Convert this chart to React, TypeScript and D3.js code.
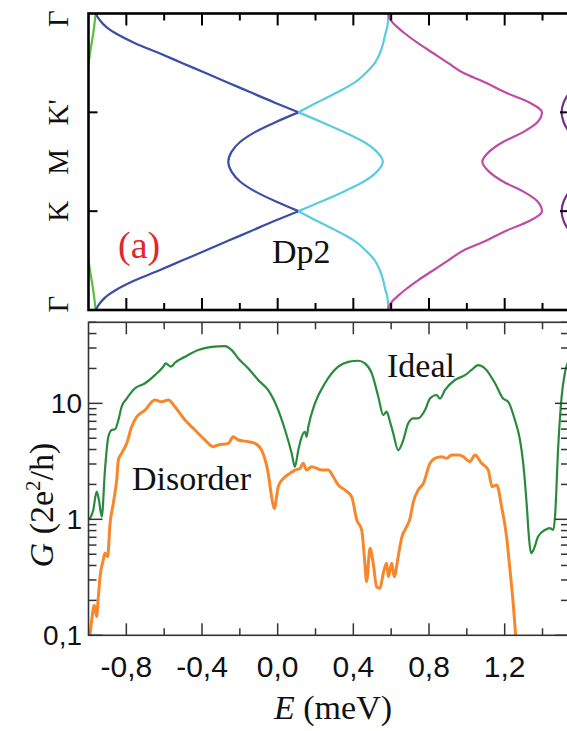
import React, { useEffect } from 'react';
import * as d3 from 'd3';

// ---- panel (a): bands along Γ - K' - M - K - Γ  (Γ=0, K'=1, M=1.5, K=2, Γ=3), E in meV
const kPath = [0, 0.05, 0.1, 0.15, 0.2, 0.3, 0.4, 0.5, 0.6, 0.7, 0.8, 0.9, 1.0,
  1.1, 1.2, 1.3, 1.4, 1.5, 1.6, 1.7, 1.8, 1.9, 2.0,
  2.1, 2.2, 2.3, 2.4, 2.5, 2.6, 2.7, 2.8, 2.85, 2.9, 2.95, 3.0];
const blueE = [-0.962, -0.947, -0.926, -0.897, -0.857, -0.754, -0.628, -0.506, -0.384, -0.262, -0.140, -0.018, 0.110,
  -0.012, -0.120, -0.199, -0.244, -0.261, -0.244, -0.199, -0.120, -0.012, 0.110,
  -0.018, -0.140, -0.262, -0.384, -0.506, -0.628, -0.754, -0.857, -0.897, -0.926, -0.947, -0.962];
const cyanE = [0.585, 0.584, 0.582, 0.578, 0.570, 0.558, 0.541, 0.514, 0.467, 0.406, 0.313, 0.208, 0.110,
  0.234, 0.351, 0.456, 0.525, 0.556, 0.525, 0.456, 0.351, 0.234, 0.110,
  0.208, 0.313, 0.406, 0.467, 0.514, 0.541, 0.558, 0.570, 0.578, 0.582, 0.584, 0.585];
const magentaE = [0.585, 0.592, 0.612, 0.640, 0.671, 0.742, 0.821, 0.900, 0.980, 1.101, 1.205, 1.330, 1.397,
  1.373, 1.297, 1.191, 1.117, 1.082, 1.117, 1.191, 1.297, 1.373, 1.397,
  1.330, 1.205, 1.101, 0.980, 0.900, 0.821, 0.742, 0.671, 0.640, 0.612, 0.592, 0.585];
const purpleK = [0.5, 0.7, 0.8, 0.85, 0.9, 1.0, 1.1, 1.15, 1.2, 1.3, 1.5, 1.7, 1.8, 1.85, 1.9, 2.0, 2.1, 2.15, 2.2, 2.3, 2.5];
const purpleE = [1.765, 1.596, 1.543, 1.525, 1.512, 1.501, 1.512, 1.525, 1.543, 1.596, 1.765,
  1.596, 1.543, 1.525, 1.512, 1.501, 1.512, 1.525, 1.543, 1.596, 1.765];
const greenTopK = [0, 0.2, 0.4, 0.6, 0.8];
const greenTopE = [-0.962, -0.975, -0.992, -1.007, -1.022];
const greenBotK = [2.2, 2.4, 2.6, 2.8, 3.0];
const greenBotE = [-1.022, -1.007, -0.992, -0.975, -0.962];
const kTicks = [0, 1, 1.5, 2, 3];
const kLabels = ['Γ', "K'", 'M', 'K', 'Γ'];

// ---- conductance
const idealE = [-0.997, -0.975, -0.957, -0.945, -0.930, -0.913, -0.895, -0.877, -0.860, -0.842, -0.825, -0.798, -0.754,
  -0.701, -0.649, -0.605, -0.592, -0.564, -0.543, -0.490, -0.420, -0.349, -0.279, -0.243, -0.208, -0.155, -0.103,
  -0.050, 0.003, 0.039, 0.074, 0.091, 0.109, 0.127, 0.144, 0.153, 0.162, 0.197, 0.250, 0.320, 0.373, 0.426, 0.461,
  0.497, 0.532, 0.558, 0.576, 0.594, 0.611, 0.637, 0.664, 0.690, 0.717, 0.743, 0.779, 0.805, 0.840, 0.858, 0.884,
  0.937, 0.990, 1.025, 1.060, 1.096, 1.149, 1.192, 1.219, 1.254, 1.281, 1.298, 1.316, 1.328, 1.339, 1.351, 1.377,
  1.413, 1.439, 1.457, 1.466, 1.483, 1.501, 1.518, 1.540];
const idealG = [0.99, 1.20, 1.73, 1.47, 1.05, 2.66, 5.15, 5.89, 5.97, 7.18, 9.35, 11.0, 13.5,
  14.9, 17.5, 20.7, 22.1, 20.7, 22.4, 25.2, 28.8, 30.7, 31.2, 28.8, 24.4, 20.0, 15.9,
  13.0, 8.75, 5.89, 3.71, 2.84, 3.95, 5.15, 5.69, 5.15, 6.28, 10.0, 14.9, 20.7, 22.8, 23.3, 22.1,
  18.2, 11.4, 7.93, 8.47, 6.93, 5.51, 3.95, 4.83, 6.73, 7.43, 7.43, 8.75, 11.0, 11.8, 11.0, 13.0,
  15.9, 17.5, 19.4, 21.4, 20.0, 14.9, 11.0, 10.3, 7.18, 4.83, 3.04, 1.37, 0.71, 0.51, 0.54, 0.71,
  0.81, 0.84, 0.81, 1.05, 4.23, 11.4, 18.2, 23.6];
const disorderE = [-0.992, -0.983, -0.969, -0.957, -0.948, -0.939, -0.922, -0.913, -0.899, -0.886, -0.869, -0.851,
  -0.842, -0.825, -0.798, -0.772, -0.745, -0.701, -0.649, -0.613, -0.578, -0.543, -0.490, -0.437, -0.384, -0.340,
  -0.314, -0.261, -0.235, -0.208, -0.155, -0.120, -0.085, -0.050, -0.032, -0.018, 0.003, 0.030, 0.065, 0.091, 0.118,
  0.135, 0.153, 0.180, 0.233, 0.267, 0.294, 0.320, 0.356, 0.391, 0.418, 0.444, 0.461, 0.470, 0.488, 0.505, 0.523,
  0.541, 0.558, 0.576, 0.585, 0.603, 0.616, 0.637, 0.655, 0.678, 0.699, 0.717, 0.743, 0.770, 0.805, 0.831, 0.867,
  0.893, 0.920, 0.955, 0.981, 1.016, 1.043, 1.078, 1.113, 1.134, 1.158, 1.184, 1.210, 1.228, 1.245, 1.258];
const disorderG = [0.1, 0.135, 0.182, 0.145, 0.215, 0.320, 0.446, 0.509, 0.476, 0.924, 1.37, 2.18,
  3.25, 3.71, 4.52, 6.28, 7.66, 8.75, 10.7, 10.3, 10.7, 9.35, 7.18, 5.89, 4.83, 4.23,
  4.38, 4.52, 5.15, 4.83, 4.67, 4.52, 3.95, 2.49, 1.57, 1.24, 1.91, 2.25, 2.49, 2.66, 2.75,
  3.04, 2.66, 2.84, 2.66, 2.66, 2.33, 1.98, 1.79, 1.57, 0.99, 0.81, 0.418, 0.290, 0.562, 0.418, 0.262,
  0.254, 0.342, 0.418, 0.320, 0.418, 0.320, 0.476, 0.69, 0.84, 1.01, 1.41, 1.79, 2.04, 3.04, 3.36, 3.47,
  3.36, 3.58, 3.58, 3.47, 3.14, 3.58, 3.04, 2.66, 1.91, 1.98, 1.28, 0.71, 0.366, 0.189, 0.1];

const eMajor = [-0.8, -0.4, 0.0, 0.4, 0.8, 1.2];
const eMajorLabels = ['-0,8', '-0,4', '0,0', '0,4', '0,8', '1,2'];
const eMinor = [-0.6, -0.2, 0.2, 0.6, 1.0, 1.4];
const gMajor = [0.1, 1, 10];
const gMajorLabels = ['0,1', '1', '10'];

const serif = '"Liberation Serif", "Times New Roman", serif';
const sans = '"Liberation Sans", Arial, sans-serif';

export default function App() {
  useEffect(() => {
    document.body.style.margin = '0';
  }, []);

  const L = 88.5, R = 569;
  const x = d3.scaleLinear().domain([-1.0, 1.54]).range([L, R]);
  const yk = d3.scaleLinear().domain([0, 3]).range([13.5, 310]);
  const yg = d3.scaleLog().domain([0.1, 50]).range([635.3, 322.3]);

  const band = d3.line<[number, number]>()
    .x(d => x(d[1])).y(d => yk(d[0]))
    .curve(d3.curveMonotoneY);
  const pairs = (ks: number[], es: number[]) => ks.map((k, i) => [k, es[i]] as [number, number]);
  // split at the Dirac points so the crossings stay sharp
  const segs = (es: number[]) => [pairs(kPath.slice(0, 13), es.slice(0, 13)),
    pairs(kPath.slice(12, 23), es.slice(12, 23)), pairs(kPath.slice(22), es.slice(22))];

  const cond = d3.line<[number, number]>()
    .x(d => x(d[0])).y(d => yg(d[1]))
    .curve(d3.curveMonotoneX);
  const ideal = idealE.map((e, i) => [e, idealG[i]] as [number, number]);
  const disorder = disorderE.map((e, i) => [e, disorderG[i]] as [number, number]);

  const gMinor = yg.ticks().filter(t => !gMajor.some(m => Math.abs(m - t) < 1e-9));

  const topT = 13.5, topB = 310, botT = yg.range()[1], botB = yg.range()[0];

  return (
    <svg width={567} height={731} style={{ display: 'block' }}>
      <defs>
        <clipPath id="clipA"><rect x={L} y={topT} width={R - L} height={topB - topT} /></clipPath>
        <clipPath id="clipB"><rect x={L} y={botT} width={R - L} height={botB - botT} /></clipPath>
      </defs>
      <rect width={567} height={731} fill="#fff" />

      {/* ---------- band panel ---------- */}
      <g clipPath="url(#clipA)" fill="none" strokeWidth={2.2}>
        <path d={band(pairs(greenTopK, greenTopE)) || ''} stroke="#5cbf3a" />
        <path d={band(pairs(greenBotK, greenBotE)) || ''} stroke="#5cbf3a" />
        {segs(blueE).map((s, i) => <path key={'b' + i} d={band(s) || ''} stroke="#3a4ea6" />)}
        {segs(cyanE).map((s, i) => <path key={'c' + i} d={band(s) || ''} stroke="#5ccbe0" />)}
        <path d={band(pairs(kPath, magentaE)) || ''} stroke="#c04aa8" />
        <path d={band(pairs(purpleK, purpleE)) || ''} stroke="#7a2a88" />
      </g>
      <g stroke="#000" strokeWidth={2}>
        {eMajor.map(e => (
          <g key={'ta' + e}>
            <line x1={x(e)} x2={x(e)} y1={topT} y2={topT + 12} />
            <line x1={x(e)} x2={x(e)} y1={topB} y2={topB - 12} />
          </g>
        ))}
        {eMinor.map(e => (
          <g key={'ti' + e}>
            <line x1={x(e)} x2={x(e)} y1={topT} y2={topT + 7} />
            <line x1={x(e)} x2={x(e)} y1={topB} y2={topB - 7} />
          </g>
        ))}
        {[1, 2].map(k => (
          <g key={'tk' + k}>
            <line x1={L} x2={L + 9} y1={yk(k)} y2={yk(k)} />
            <line x1={R} x2={R - 9} y1={yk(k)} y2={yk(k)} />
          </g>
        ))}
      </g>
      <rect x={L} y={topT} width={R - L} height={topB - topT} fill="none" stroke="#000" strokeWidth={2.6} />
      {kTicks.map((k, i) => {
        const yy = yk(k) + (i === 0 ? 5 : i === kTicks.length - 1 ? -6 : 0);
        return (
          <text key={'kl' + i} transform={`translate(68,${yy}) rotate(-90)`} textAnchor="middle"
            fontFamily={serif} fontSize={29} fill="#111">{kLabels[i]}</text>
        );
      })}
      <text x={118} y={258} fontFamily={serif} fontSize={38} fill="#e3262c">(a)</text>
      <text x={272} y={263} fontFamily={serif} fontSize={34} fill="#111">Dp2</text>

      {/* ---------- conductance panel ---------- */}
      <g clipPath="url(#clipB)" fill="none">
        <path d={cond(ideal) || ''} stroke="#2a8a3c" strokeWidth={2.2} />
        <path d={cond(disorder) || ''} stroke="#f7872a" strokeWidth={3} />
      </g>
      <g stroke="#333" strokeWidth={1.5}>
        {eMajor.map(e => (
          <g key={'ba' + e}>
            <line x1={x(e)} x2={x(e)} y1={botT} y2={botT + 12} />
            <line x1={x(e)} x2={x(e)} y1={botB} y2={botB - 12} />
          </g>
        ))}
        {eMinor.map(e => (
          <g key={'bi' + e}>
            <line x1={x(e)} x2={x(e)} y1={botT} y2={botT + 7} />
            <line x1={x(e)} x2={x(e)} y1={botB} y2={botB - 7} />
          </g>
        ))}
        {gMajor.map(g => (
          <g key={'ga' + g}>
            <line x1={L} x2={L + 14} y1={yg(g)} y2={yg(g)} />
            <line x1={R} x2={R - 14} y1={yg(g)} y2={yg(g)} />
          </g>
        ))}
        {gMinor.map(g => (
          <g key={'gi' + g}>
            <line x1={L} x2={L + 8} y1={yg(g)} y2={yg(g)} />
            <line x1={R} x2={R - 8} y1={yg(g)} y2={yg(g)} />
          </g>
        ))}
      </g>
      <rect x={L} y={botT} width={R - L} height={botB - botT} fill="none" stroke="#333" strokeWidth={1.6} />
      {gMajor.map((g, i) => (
        <text key={'gl' + g} x={82} y={yg(g) + 10} textAnchor="end" fontFamily={sans} fontSize={28} fill="#111">
          {gMajorLabels[i]}
        </text>
      ))}
      {eMajor.map((e, i) => (
        <text key={'el' + e} x={x(e)} y={677} textAnchor="middle" fontFamily={sans} fontSize={30} fill="#111">
          {eMajorLabels[i]}
        </text>
      ))}
      <text x={387} y={377} fontFamily={serif} fontSize={34} fill="#111">Ideal</text>
      <text x={132} y={490} fontFamily={serif} fontSize={34} fill="#111">Disorder</text>
      <text transform="translate(53,505) rotate(-90)" textAnchor="middle" fontFamily={serif} fontSize={34} fill="#111">
        <tspan fontStyle="italic">G</tspan> (2e<tspan dy={-13} fontSize={21}>2</tspan><tspan dy={13}>/h)</tspan>
      </text>
      <text x={333} y={719} textAnchor="middle" fontFamily={serif} fontSize={34} fill="#111">
        <tspan fontStyle="italic">E</tspan> (meV)
      </text>
    </svg>
  );
}
